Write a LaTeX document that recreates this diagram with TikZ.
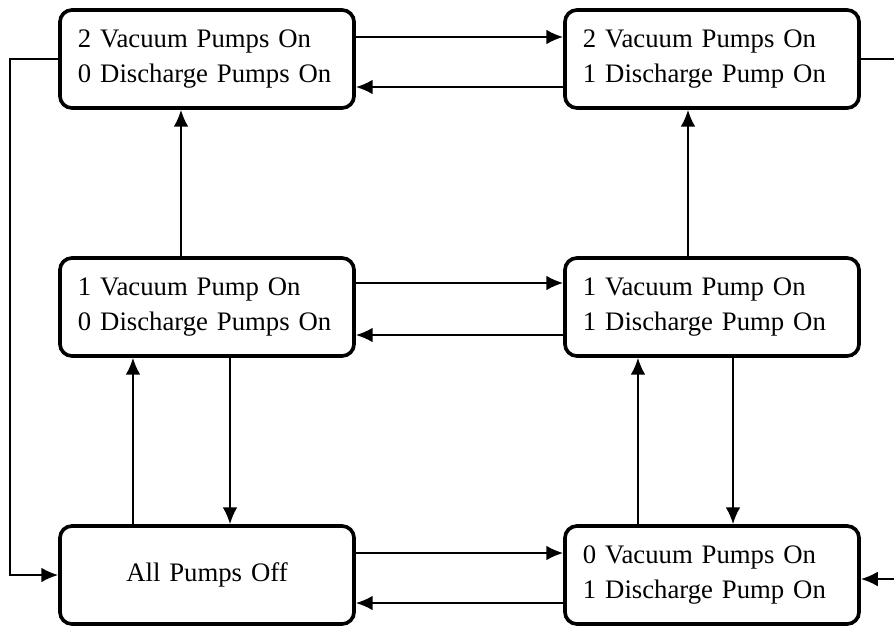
\documentclass[tikz,border=0pt]{standalone}
\usepackage{fontspec}
\setmainfont{Liberation Serif}
\usetikzlibrary{arrows.meta}

\begin{document}
\begin{tikzpicture}[x=0.025cm,y=-0.025cm,
  pumpbox/.style={draw, line width=2.6pt, rounded corners=0.3cm,
    minimum width=7.35cm, minimum height=2.45cm, text width=6.45cm,
    inner xsep=0.45cm, align=left, font=\fontsize{19}{25}\selectfont},
  flow/.style={line width=1.4pt, -{Latex[length=12pt,width=10.5pt]}},
  wire/.style={line width=1.4pt}]

\useasboundingbox (0,0) rectangle (894,625);

% pump states
\node[pumpbox] (v2d0) at (207,59) {2 Vacuum Pumps On\\0 Discharge Pumps On};
\node[pumpbox] (v2d1) at (712,59) {2 Vacuum Pumps On\\1 Discharge Pump On};
\node[pumpbox] (v1d0) at (207,307) {1 Vacuum Pump On\\0 Discharge Pumps On};
\node[pumpbox] (v1d1) at (712,307) {1 Vacuum Pump On\\1 Discharge Pump On};
\node[pumpbox, align=center] (off) at (207,575) {All Pumps Off};
\node[pumpbox] (v0d1) at (712,575) {0 Vacuum Pumps On\\1 Discharge Pump On};

\coordinate (rim) at (894,0);

% horizontal transitions
\draw[flow] ([yshift=0.55cm]v2d0.east) -- ([yshift=0.55cm]v2d1.west);
\draw[flow] ([yshift=-0.7cm]v2d1.west) -- ([yshift=-0.7cm]v2d0.east);
\draw[flow] ([yshift=0.6cm]v1d0.east) -- ([yshift=0.6cm]v1d1.west);
\draw[flow] ([yshift=-0.7cm]v1d1.west) -- ([yshift=-0.7cm]v1d0.east);
\draw[flow] ([yshift=0.55cm]off.east) -- ([yshift=0.55cm]v0d1.west);
\draw[flow] ([yshift=-0.7cm]v0d1.west) -- ([yshift=-0.7cm]off.east);

% vertical transitions
\draw[flow] ([xshift=-0.65cm]v1d0.north) -- ([xshift=-0.65cm]v2d0.south);
\draw[flow] ([xshift=-0.6cm]v1d1.north) -- ([xshift=-0.6cm]v2d1.south);
\draw[flow] ([xshift=-1.85cm]off.north) -- ([xshift=-1.85cm]v1d0.south);
\draw[flow] ([xshift=0.575cm]v1d0.south) -- ([xshift=0.575cm]off.north);
\draw[flow] ([xshift=-1.85cm]v0d1.north) -- ([xshift=-1.85cm]v1d1.south);
\draw[flow] ([xshift=0.525cm]v1d1.south) -- ([xshift=0.525cm]v0d1.north);

% outer returns
\draw[flow] (v2d0.west) -- ++(-48,0) |- (off.west);
\draw[wire] (v2d1.east) -- (v2d1.east -| rim);
\draw[flow] ([yshift=-0.1cm]v0d1.east -| rim) -- ([yshift=-0.1cm]v0d1.east);

\end{tikzpicture}
\end{document}
